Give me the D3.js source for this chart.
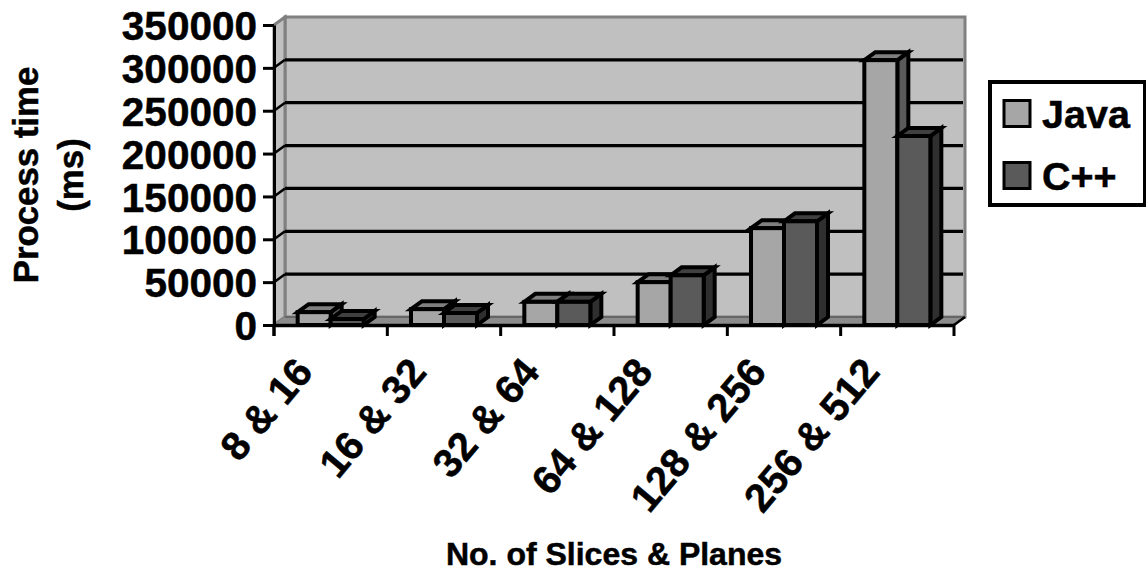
<!DOCTYPE html>
<html><head><meta charset="utf-8">
<script src="https://cdnjs.cloudflare.com/ajax/libs/d3/7.8.5/d3.min.js"></script>
<style>html,body{margin:0;background:#fff}svg{display:block}text{font-family:"Liberation Sans",Arial,sans-serif;font-weight:bold;fill:#000;stroke:#000;stroke-width:.5px}</style>
</head><body><svg id="c" width="1146" height="572"></svg>
<script>
const categories=["8 & 16","16 & 32","32 & 64","64 & 128","128 & 256","256 & 512"];
const seriesNames=["Java","C++"];
const java=[15000,18500,27000,50000,113000,309000];
const cpp=[7000,14000,27000,58000,121000,220500];
const yTicks=[0,50000,100000,150000,200000,250000,300000,350000];
const xTitle="No. of Slices & Planes";
const yTitle=["Process time","(ms)"];
const faces=[{front:"#a6a6a6",top:"#7f7f7f",side:"#5a5a5a"},{front:"#5a5a5a",top:"#404040",side:"#2f2f2f"}];

const svg=d3.select("#c");
const dx=11,dy=-8;
const x=d3.scaleBand().domain(categories).range([274,954]).paddingInner(0).paddingOuter(0);
const y=d3.scaleLinear().domain([0,350000]).range([325,25]);
const pts=a=>a.map(p=>p.join(",")).join(" ");
const x0=274,x1=954,y0=y(0),yT=y(350000);

// walls
svg.append("polygon").attr("points",pts([[x0+dx,yT+dy],[x1+dx,yT+dy],[x1+dx,y0+dy],[x0+dx,y0+dy]])).attr("fill","#c0c0c0").attr("stroke","#808080").attr("stroke-width",3);
svg.append("polygon").attr("points",pts([[x0,yT],[x0+dx,yT+dy],[x0+dx,y0+dy],[x0,y0]])).attr("fill","#c0c0c0").attr("stroke","#808080").attr("stroke-width",3);
// floor
svg.append("polygon").attr("points",pts([[x0,y0],[x0+dx,y0+dy],[x1+dx,y0+dy],[x1,y0]])).attr("fill","#8c8c8c");
svg.append("line").attr("x1",x0+dx).attr("x2",x1+dx).attr("y1",y0+dy).attr("y2",y0+dy).attr("stroke","#666").attr("stroke-width",2);
// gridlines
svg.append("g").selectAll("line").data(yTicks.slice(1,-1)).join("line")
 .attr("x1",x0+dx).attr("x2",x1+dx-2).attr("y1",d=>y(d)+dy).attr("y2",d=>y(d)+dy).attr("stroke","#000").attr("stroke-width",3.2);
svg.append("g").selectAll("line").data(yTicks.slice(1,-1)).join("line")
 .attr("x1",x0).attr("x2",x0+dx).attr("y1",d=>y(d)).attr("y2",d=>y(d)+dy).attr("stroke","#000").attr("stroke-width",2.5);
svg.append("line").attr("x1",x1).attr("x2",x1+dx).attr("y1",y0).attr("y2",y0+dy).attr("stroke","#000").attr("stroke-width",2.5);

// bars
const bw=33;
const gap=(x.bandwidth()-2*bw)/2;
categories.forEach((c,i)=>{
 [java,cpp].forEach((vals,s)=>{
  const l=x(c)+gap+s*bw,r=l+bw,t=y(vals[i]),b=y0;
  const g=svg.append("g").attr("stroke","#000").attr("stroke-width",4).attr("stroke-linejoin","miter");
  g.append("polygon").attr("points",pts([[r,t],[r+dx,t+dy],[r+dx,b+dy],[r,b]])).attr("fill",faces[s].side);
  g.append("polygon").attr("points",pts([[l,t],[l+dx,t+dy],[r+dx,t+dy],[r,t]])).attr("fill",faces[s].top);
  g.append("rect").attr("x",l).attr("y",t).attr("width",bw).attr("height",b-t).attr("fill",faces[s].front);
 });
});

// axes
const yAxis=d3.axisLeft(y).tickValues(yTicks).tickFormat(d3.format("d")).tickSize(11).tickSizeOuter(0).tickPadding(6);
const gy=svg.append("g").attr("transform",`translate(${x0},0)`).call(yAxis);
gy.selectAll("path,line").attr("stroke","#000").attr("stroke-width",3);
gy.selectAll("text").attr("font-size",40.5).attr("dy","0.36em").attr("font-family",'"Liberation Sans"');
svg.append("line").attr("x1",x0).attr("x2",x0).attr("y1",y0).attr("y2",y0+11).attr("stroke","#000").attr("stroke-width",3);

const xAxis=d3.axisBottom(x).tickValues([]).tickSizeOuter(0);
const gx=svg.append("g").attr("transform",`translate(0,${y0})`).call(xAxis);
gx.select("path").attr("stroke","#000").attr("stroke-width",3.5);
const edges=categories.map(c=>x(c)).concat([x1]);
svg.append("g").selectAll("line").data(edges).join("line")
 .attr("x1",d=>d).attr("x2",d=>d).attr("y1",y0).attr("y2",y0+11).attr("stroke","#000").attr("stroke-width",3);

// category labels
svg.append("g").selectAll("text").data(categories).join("text")
 .attr("text-anchor","end").attr("font-size",40)
 .attr("transform",d=>`translate(${x(d)+x.bandwidth()/2-16},${y0+48}) rotate(-50)`)
 .text(d=>d);

svg.append("text").attr("x",614).attr("y",565).attr("text-anchor","middle").attr("font-size",32).text(xTitle);
yTitle.forEach((t,i)=>{
 svg.append("text").attr("text-anchor","middle").attr("font-size",34.8)
  .attr("transform",`translate(${38+i*45},175) rotate(-90)`).text(t);
});

// legend
const lg=svg.append("g");
lg.append("rect").attr("x",990).attr("y",82).attr("width",155).attr("height",123).attr("fill","#fff").attr("stroke","#000").attr("stroke-width",4);
seriesNames.forEach((n,i)=>{
 const yy=113.5+i*62;
 lg.append("rect").attr("x",1004).attr("y",yy-13).attr("width",26).attr("height",26).attr("fill",faces[i].front).attr("stroke","#000").attr("stroke-width",3);
 lg.append("text").attr("x",1042).attr("y",yy+14).attr("font-size",39.5).text(n);
});
</script></body></html>
